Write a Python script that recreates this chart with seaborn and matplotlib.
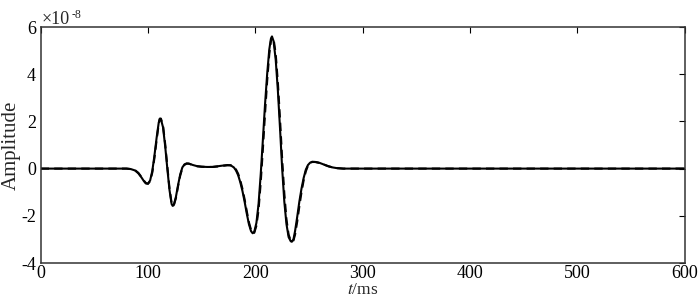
import pandas as pd
import matplotlib
matplotlib.use('Agg')
import matplotlib.pyplot as plt
import seaborn as sns

# time axis (ms) and amplitudes (x1e-8)
t_ms = [0, 80, 84, 88, 91, 94, 96, 98, 100, 102, 104, 106, 108, 110, 111, 112,
        114, 116, 118, 120, 122, 123, 124, 126, 128, 130, 132, 134, 136, 138,
        142, 146, 150, 155, 160, 165, 170, 174, 177, 180, 182, 184, 186, 188,
        190, 192, 194, 196, 197.5, 199, 201, 203, 205, 207, 209, 211, 213,
        214.5, 215.5, 217, 219, 221, 223, 225, 227, 229, 231, 233, 234, 235.5,
        237, 239, 241, 243, 245, 247, 249, 251, 253, 256, 260, 264, 268, 272,
        276, 282, 290, 600]

amp_solid = [0, 0, -0.02, -0.08, -0.2, -0.38, -0.52, -0.63, -0.64, -0.5, -0.1,
             0.55, 1.3, 1.95, 2.12, 2.1, 1.75, 0.95, 0.0, -0.9, -1.5, -1.58,
             -1.55, -1.2, -0.7, -0.25, 0.05, 0.18, 0.22, 0.21, 0.15, 0.1, 0.08,
             0.07, 0.07, 0.1, 0.13, 0.15, 0.14, 0.05, -0.08, -0.28, -0.58,
             -0.95, -1.4, -1.9, -2.35, -2.65, -2.74, -2.68, -2.3, -1.5, -0.25,
             1.2, 2.7, 4.0, 5.05, 5.5, 5.6, 5.4, 4.6, 3.3, 1.7, 0.0, -1.4,
             -2.35, -2.9, -3.08, -3.1, -3.0, -2.65, -2.05, -1.4, -0.85, -0.4,
             -0.05, 0.15, 0.25, 0.29, 0.28, 0.24, 0.17, 0.1, 0.05, 0.02, 0.0,
             0.0, 0.0]

amp_dashed = [0, 0, -0.02, -0.07, -0.18, -0.36, -0.5, -0.61, -0.64, -0.53,
              -0.17, 0.45, 1.2, 1.9, 2.1, 2.12, 1.82, 1.05, 0.1, -0.82, -1.47,
              -1.57, -1.56, -1.25, -0.75, -0.3, 0.02, 0.16, 0.21, 0.21, 0.15,
              0.1, 0.08, 0.07, 0.07, 0.09, 0.12, 0.14, 0.14, 0.07, -0.04,
              -0.22, -0.5, -0.86, -1.3, -1.8, -2.27, -2.6, -2.73, -2.72, -2.42,
              -1.75, -0.6, 0.8, 2.3, 3.7, 4.85, 5.4, 5.58, 5.5, 4.85, 3.65,
              2.1, 0.4, -1.05, -2.15, -2.8, -3.05, -3.1, -3.05, -2.8, -2.25,
              -1.6, -1.0, -0.5, -0.12, 0.12, 0.24, 0.28, 0.28, 0.24, 0.17, 0.1,
              0.05, 0.02, 0.0, 0.0, 0.0]

x_ticks = [0, 100, 200, 300, 400, 500, 600]
y_ticks = [-4, -2, 0, 2, 4, 6]

sns.set_style("white")
plt.rcParams['font.family'] = ['Liberation Serif', 'DejaVu Serif']
plt.rcParams['mathtext.fontset'] = 'stix'
plt.rcParams['axes.unicode_minus'] = False

df = pd.DataFrame({'t': t_ms, 'solid': amp_solid, 'dashed': amp_dashed})

fig = plt.figure(figsize=(7, 3), dpi=100)
ax = fig.add_axes([0.0581, 0.1233, 0.92, 0.7867])

sns.lineplot(data=df, x='t', y='solid', color='black', lw=1.5, ax=ax,
             sort=False, estimator=None)
sns.lineplot(data=df, x='t', y='dashed', color='black', lw=1.5, ax=ax,
             sort=False, estimator=None, linestyle=(0, (4, 2.5)))

ax.set_xlim(0, 600)
ax.set_ylim(-4, 6)
ax.set_xticks(x_ticks)
ax.set_yticks(y_ticks)
ax.tick_params(direction='in', length=4, width=0.8, top=True, right=True,
               labelsize=13, colors='black')
ax.tick_params(axis='x', pad=1.5)
ax.tick_params(axis='y', pad=3.5)
for s in ax.spines.values():
    s.set_color('#333333')
    s.set_linewidth(1.1)

ax.set_xlabel(r'$\mathit{t}$/ms', fontsize=12.5, labelpad=0)
ax.set_ylabel('Amplitude', fontsize=15, labelpad=0)

ax.text(0.001, 1.014, '\u00d710', transform=ax.transAxes, fontsize=13,
        ha='left', va='baseline')
ax.text(0.048, 1.040, '-8', transform=ax.transAxes, fontsize=8.5,
        ha='left', va='baseline')

fig.savefig('out.png', dpi=100)
